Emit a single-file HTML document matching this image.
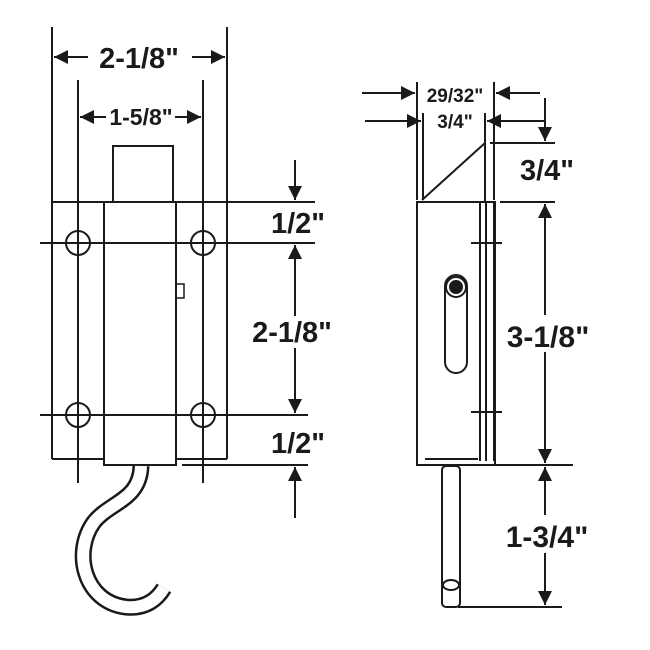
<!DOCTYPE html>
<html><head><meta charset="utf-8"><style>
body{margin:0;background:#fff}
svg{display:block}
text{font-family:"Liberation Sans",Arial,sans-serif;font-weight:bold;fill:#1a1a1a;text-anchor:middle}
</style></head><body>
<svg width="650" height="650" viewBox="0 0 650 650" xmlns="http://www.w3.org/2000/svg">
<defs>
<marker id="b" viewBox="0 0 10 10" refX="10" refY="5" markerWidth="10" markerHeight="7" orient="auto-start-reverse" markerUnits="strokeWidth"><path d="M0,0 L10,5 L0,10 Z" fill="#1a1a1a"/></marker>
</defs>
<g stroke="#1a1a1a" stroke-width="2" fill="none">
<line x1="52" y1="27" x2="52" y2="459"/>
<line x1="227" y1="27" x2="227" y2="459"/>
<line x1="78" y1="80" x2="78" y2="483"/>
<line x1="203" y1="80" x2="203" y2="483"/>
<line x1="52" y1="202" x2="315" y2="202"/>
<line x1="40" y1="243" x2="315" y2="243"/>
<line x1="40" y1="415" x2="308" y2="415"/>
<line x1="52" y1="459" x2="104" y2="459"/>
<line x1="176" y1="459" x2="227" y2="459"/>
<line x1="182" y1="465" x2="308" y2="465"/>
<rect x="104" y="202" width="72" height="263"/>
<rect x="113" y="146" width="60" height="56"/>
<circle cx="78" cy="243" r="12"/><circle cx="203" cy="243" r="12"/>
<circle cx="78" cy="415" r="12"/><circle cx="203" cy="415" r="12"/>
<rect x="176" y="284" width="8" height="14" stroke-width="1.5"/>
<path d="M141,466 C140,500 110,502 94,522 C72,552 84,602 126,607 C147,609 158,598 164,588" stroke-width="17"/>
<path d="M141,466 C140,500 110,502 94,522 C72,552 84,602 126,607 C147,609 158,598 164,588" stroke="#fff" stroke-width="12"/>
<line x1="54" y1="57" x2="88" y2="57" marker-start="url(#b)"/>
<line x1="192" y1="57" x2="225" y2="57" marker-end="url(#b)"/>
<line x1="80" y1="117" x2="106" y2="117" marker-start="url(#b)"/>
<line x1="175" y1="117" x2="201" y2="117" marker-end="url(#b)"/>
<line x1="295" y1="160" x2="295" y2="200" marker-end="url(#b)"/>
<line x1="295" y1="245" x2="295" y2="316" marker-start="url(#b)"/>
<line x1="295" y1="348" x2="295" y2="413" marker-end="url(#b)"/>
<line x1="295" y1="467" x2="295" y2="518" marker-start="url(#b)"/>
<rect x="417" y="202" width="78" height="263"/>
<line x1="480" y1="202" x2="480" y2="461"/>
<line x1="486" y1="202" x2="486" y2="461"/>
<line x1="494" y1="202" x2="494" y2="461"/>
<line x1="425" y1="459" x2="478" y2="459"/>
<line x1="480" y1="465" x2="573" y2="465"/>
<line x1="471" y1="243" x2="502" y2="243"/>
<line x1="471" y1="412" x2="502" y2="412"/>
<line x1="422" y1="200" x2="485" y2="143"/>
<line x1="485" y1="113" x2="485" y2="202"/>
<line x1="417" y1="82" x2="417" y2="200"/>
<line x1="423" y1="113" x2="423" y2="200"/>
<line x1="494" y1="82" x2="494" y2="200"/>
<line x1="490" y1="143" x2="555" y2="143"/>
<line x1="500" y1="202" x2="555" y2="202"/>
<rect x="445" y="275" width="22" height="98" rx="11"/>
<circle cx="456" cy="287" r="10"/>
<circle cx="456" cy="287" r="6" fill="#1a1a1a"/>
<rect x="442" y="466" width="18" height="141" rx="4"/>
<ellipse cx="451" cy="585" rx="8" ry="5"/>
<line x1="458" y1="607" x2="562" y2="607"/>
<line x1="362" y1="93" x2="415" y2="93" marker-end="url(#b)"/>
<line x1="496" y1="93" x2="540" y2="93" marker-start="url(#b)"/>
<line x1="365" y1="121" x2="421" y2="121" marker-end="url(#b)"/>
<line x1="487" y1="121" x2="545" y2="121" marker-start="url(#b)"/>
<line x1="545" y1="98" x2="545" y2="141" marker-end="url(#b)"/>
<line x1="545" y1="204" x2="545" y2="315" marker-start="url(#b)"/>
<line x1="545" y1="352" x2="545" y2="463" marker-end="url(#b)"/>
<line x1="545" y1="467" x2="545" y2="515" marker-start="url(#b)"/>
<line x1="545" y1="553" x2="545" y2="605" marker-end="url(#b)"/>
</g>
<g>
<rect x="90" y="42" width="100" height="30" fill="#fff"/>
<text x="139" y="68" font-size="29">2-1/8"</text>
<rect x="106" y="104" width="68" height="24" fill="#fff"/>
<text x="141" y="125" font-size="23">1-5/8"</text>
<text x="298" y="233" font-size="29">1/2"</text>
<rect x="250" y="317" width="85" height="30" fill="#fff"/>
<text x="292" y="342" font-size="29">2-1/8"</text>
<text x="298" y="453" font-size="29">1/2"</text>
<text x="455" y="102" font-size="19">29/32"</text>
<text x="455" y="128" font-size="19">3/4"</text>
<text x="547" y="180" font-size="29">3/4"</text>
<rect x="505" y="318" width="90" height="32" fill="#fff"/>
<text x="548" y="347" font-size="30">3-1/8"</text>
<rect x="500" y="518" width="95" height="33" fill="#fff"/>
<text x="547" y="547" font-size="30">1-3/4"</text>
</g>
</svg>
</body></html>
